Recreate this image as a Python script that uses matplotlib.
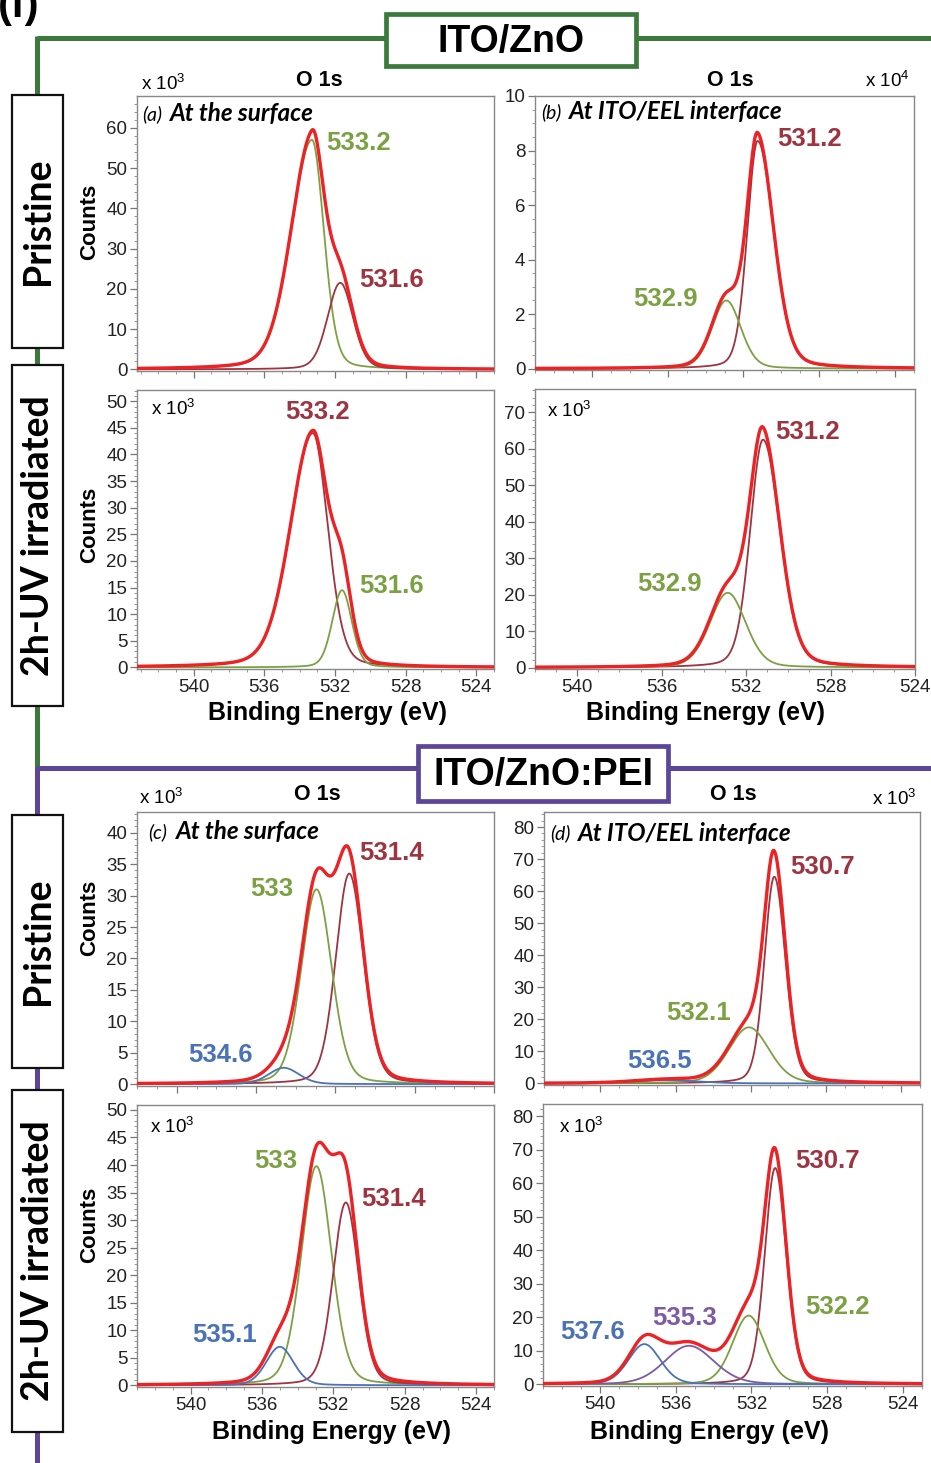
import numpy as np
import matplotlib
matplotlib.use("Agg")
import matplotlib.pyplot as plt
from matplotlib.patches import Rectangle
from matplotlib.ticker import MultipleLocator

# ---------------- data (peak fit components) ----------------
# Each component: centre (eV), height, half width on the high-BE side, half width on the low-BE side
# (a) ITO/ZnO, pristine, at the surface  (x10^3 counts)
a_centers = [533.3, 531.7]
a_heights = [57.0, 21.5]
a_hw_high = [1.4, 0.85]
a_hw_low = [0.8, 0.85]
a_labels = ["533.2", "531.6"]
# (b) ITO/ZnO, pristine, at ITO/EEL interface (x10^4 counts)
b_centers = [531.25, 532.9]
b_heights = [8.35, 2.5]
b_hw_high = [0.65, 0.9]
b_hw_low = [1.0, 0.9]
b_labels = ["531.2", "532.9"]
# ITO/ZnO, 2h-UV irradiated, surface (x10^3)
a2_centers = [533.25, 531.6]
a2_heights = [44.0, 14.5]
a2_hw_high = [1.5, 0.65]
a2_hw_low = [1.0, 0.65]
a2_labels = ["533.2", "531.6"]
# ITO/ZnO, 2h-UV irradiated, interface (x10^3)
b2_centers = [531.2, 532.87]
b2_heights = [62.5, 20.5]
b2_hw_high = [0.72, 1.0]
b2_hw_low = [0.95, 1.0]
b2_labels = ["531.2", "532.9"]
# (c) ITO/ZnO:PEI, pristine, surface (x10^3)
c_centers = [531.3, 532.95, 534.6]
c_heights = [33.5, 31.0, 2.6]
c_hw_high = [0.8, 0.9, 0.9]
c_hw_low = [0.85, 0.9, 0.9]
c_labels = ["531.4", "533", "534.6"]
# (d) ITO/ZnO:PEI, pristine, interface (x10^3)
d_centers = [530.75, 532.1, 536.5]
d_heights = [64.5, 17.5, 1.0]
d_hw_high = [0.62, 1.27, 2.0]
d_hw_low = [0.7, 1.27, 2.0]
d_labels = ["530.7", "532.1", "536.5"]
# ITO/ZnO:PEI, 2h-UV irradiated, surface (x10^3)
c2_centers = [532.95, 531.3, 535.0]
c2_heights = [39.8, 33.2, 7.0]
c2_hw_high = [1.0, 0.85, 0.9]
c2_hw_low = [1.0, 0.85, 0.9]
c2_labels = ["533", "531.4", "535.1"]
# ITO/ZnO:PEI, 2h-UV irradiated, interface (x10^3)
d2_centers = [530.75, 532.15, 535.3, 537.65]
d2_heights = [64.5, 20.5, 11.5, 12.0]
d2_hw_high = [0.65, 1.0, 1.5, 1.0]
d2_hw_low = [0.7, 1.0, 1.55, 1.0]
d2_labels = ["530.7", "532.2", "535.3", "537.6"]

xticks_be = [540, 536, 532, 528, 524]

# ---------------- styles ----------------
RED = "#ec2224"
GREEN = "#7ba143"
BROWN = "#9d3440"
BLUE = "#4a72b6"
PURPLE = "#7c5aa5"
GFRAME = "#3b7a3a"
PFRAME = "#5d4597"
ETA = 0.2

W, H = 931, 1463
fig = plt.figure(figsize=(W / 100, H / 100), dpi=100)
fig.patch.set_facecolor("white")
plt.rcParams["font.family"] = ["Liberation Sans", "DejaVu Sans"]

bg = fig.add_axes([0, 0, 1, 1])
bg.set_xlim(0, W)
bg.set_ylim(H, 0)
bg.axis("off")
bg.set_zorder(0)

NARROW = ["Liberation Sans Narrow", "Liberation Sans", "DejaVu Sans"]
CAL = ["Lato", "Open Sans", "DejaVu Sans"]


def profile(x, c, h, whi, wlo):
    w = np.where(x >= c, whi, wlo)
    u = (x - c) / w
    g = np.exp(-np.log(2) * u ** 2)
    l = 1.0 / (1 + u ** 2)
    return h * ((1 - ETA) * g + ETA * l)


def panel(box, xlim, ylim, ymaj, ymin, centers, heights, whi, wlo, colors,
          labels, label_pos, xlabels):
    l, t, r, b = box
    ax = fig.add_axes([l / W, 1 - b / H, (r - l) / W, (b - t) / H])
    ax.set_zorder(2)
    x = np.linspace(xlim[0], xlim[1], 900)
    total = np.zeros_like(x)
    for c, h, wh, wl, col in zip(centers, heights, whi, wlo, colors):
        y = profile(x, c, h, wh, wl)
        total += y
        ax.plot(x, y, color=col, lw=1.3, zorder=3)
    ax.plot(x, total, color=RED, lw=2.4, zorder=4)
    for lab, col, (lx, ly, ha) in zip(labels, colors, label_pos):
        ax.text(lx, ly, lab, color=col, fontsize=18.5, fontweight="bold",
                ha=ha, va="center", zorder=5)
    ax.set_xlim(*xlim)
    ax.set_ylim(*ylim)
    ax.set_xticks(xticks_be)
    ax.xaxis.set_minor_locator(MultipleLocator(1))
    ax.yaxis.set_major_locator(MultipleLocator(ymaj))
    ax.yaxis.set_minor_locator(MultipleLocator(ymin))
    ax.tick_params(which="major", direction="out", length=5, width=0.9,
                   color="#777777", labelsize=13.5, pad=2, labelcolor="#222222")
    ax.tick_params(which="minor", direction="out", length=2.5, width=0.7,
                   color="#999999")
    if not xlabels:
        ax.tick_params(axis="x", labelbottom=False)
    for s in ax.spines.values():
        s.set_color("#888888")
        s.set_linewidth(1.0)
    return ax


# ---- ITO/ZnO ----
panel((137, 96, 494, 371), (543.2, 523), (-0.4, 67.9), 10, 2,
      a_centers, a_heights, a_hw_high, a_hw_low, [GREEN, BROWN], a_labels,
      [(532.5, 56.3, "left"), (530.6, 22.3, "left")], False)
panel((535, 96, 914, 370), (543, 523), (-0.05, 10), 2, 0.5,
      b_centers, b_heights, b_hw_high, b_hw_low, [BROWN, GREEN], b_labels,
      [(530.2, 8.43, "left"), (537.8, 2.55, "left")], False)
panel((137, 390, 494, 669), (543.2, 523), (-0.3, 52.1), 5, 1,
      a2_centers, a2_heights, a2_hw_high, a2_hw_low, [BROWN, GREEN], a2_labels,
      [(533.0, 47.9, "center"), (530.6, 15.2, "left")], True)
panel((535, 389, 915, 669), (542, 524), (-0.4, 76.4), 10, 2,
      b2_centers, b2_heights, b2_hw_high, b2_hw_low, [BROWN, GREEN], b2_labels,
      [(530.6, 64.6, "left"), (537.15, 22.9, "left")], True)
# ---- ITO/ZnO:PEI ----
panel((137, 812, 494, 1086), (542, 524), (-0.3, 43.3), 5, 1,
      c_centers, c_heights, c_hw_high, c_hw_low, [BROWN, GREEN, BLUE], c_labels,
      [(530.8, 36.8, "left"), (536.3, 31.0, "left"), (539.4, 4.6, "left")], False)
panel((544, 812, 920, 1085), (543, 523), (-0.5, 84.7), 10, 2,
      d_centers, d_heights, d_hw_high, d_hw_low, [BROWN, GREEN, BLUE], d_labels,
      [(529.9, 67.6, "left"), (536.5, 22.0, "left"), (538.6, 7.1, "left")], False)
panel((137, 1105, 494, 1387), (543, 523), (-0.3, 50.9), 5, 1,
      c2_centers, c2_heights, c2_hw_high, c2_hw_low, [GREEN, BROWN, BLUE], c2_labels,
      [(536.45, 40.8, "left"), (530.45, 33.9, "left"), (539.9, 9.2, "left")], True)
panel((543, 1104, 922, 1386), (543, 523), (-0.5, 83.6), 10, 2,
      d2_centers, d2_heights, d2_hw_high, d2_hw_low, [BROWN, GREEN, PURPLE, BLUE],
      d2_labels,
      [(529.7, 66.7, "left"), (529.15, 23.1, "left"), (537.25, 19.9, "left"),
       (542.1, 15.7, "left")], True)

# ---------------- frame decorations ----------------
LW = 3.6
bg.plot([37, W], [38, 38], color=GFRAME, lw=LW, solid_capstyle="butt", zorder=1)
bg.plot([37, 37], [36.2, 768], color=GFRAME, lw=LW, solid_capstyle="butt", zorder=1)
bg.plot([37, W], [768, 768], color=PFRAME, lw=LW, solid_capstyle="butt", zorder=1)
bg.plot([37, 37], [766.2, H], color=PFRAME, lw=LW, solid_capstyle="butt", zorder=1)

bg.add_patch(Rectangle((386, 14), 250, 52, facecolor="white", edgecolor=GFRAME,
                       lw=3.4, zorder=2))
bg.text(511, 42, "ITO/ZnO", fontsize=27, fontweight="bold", family=NARROW,
        ha="center", va="center", zorder=3)
bg.add_patch(Rectangle((418, 746), 250, 55, facecolor="white", edgecolor=PFRAME,
                       lw=3.4, zorder=2))
bg.text(543, 775, "ITO/ZnO:PEI", fontsize=27, fontweight="bold", family=NARROW,
        ha="center", va="center", zorder=3)

bg.text(-2, 17, "(f)", fontsize=30, fontweight="bold", ha="left",
        va="baseline", zorder=3)

for (t, b, lab) in [(95, 348, "Pristine"), (365, 706, "2h-UV irradiated"),
                    (815, 1068, "Pristine"), (1090, 1432, "2h-UV irradiated")]:
    bg.add_patch(Rectangle((12, t), 51, b - t, facecolor="white",
                           edgecolor="#111111", lw=1.6, zorder=2))
    bg.text(38, (t + b) / 2, lab, rotation=90, fontsize=27, fontweight="bold",
            family=CAL, ha="center", va="center", zorder=3)

for yc in [222, 525, 918, 1225]:
    bg.text(90, yc, "Counts", rotation=90, fontsize=16, fontweight="bold",
            family=NARROW, ha="center", va="center")

for xc, yc in [(328, 713), (706, 713), (331, 1432), (709, 1432)]:
    bg.text(xc, yc, "Binding Energy (eV)", fontsize=18, fontweight="bold",
            ha="center", va="center")

for xc, yc in [(319, 81), (730, 81), (317, 795), (733, 795)]:
    bg.text(xc, yc, "O 1s", fontsize=15.5, fontweight="bold",
            ha="center", va="center")

# overlay for texts that sit inside / on top of the panels
fg = fig.add_axes([0, 0, 1, 1])
fg.set_xlim(0, W)
fg.set_ylim(H, 0)
fg.axis("off")
fg.set_zorder(5)
fg.patch.set_visible(False)

mult = [(141, 84, "3"), (865, 81, "4"), (151, 409, "3"), (547, 411, "3"),
        (139, 798, "3"), (872, 799, "3"), (150, 1127, "3"), (559, 1127, "3")]
for xl, yc, e in mult:
    fg.text(xl, yc, r"x 10$^\mathregular{%s}$" % e, fontsize=13.5,
            ha="left", va="center")

for xl, yc, tag, txt in [(142, 114, "(a)", "At the surface"),
                         (541, 112, "(b)", "At ITO/EEL interface"),
                         (148, 832, "(c)", "At the surface"),
                         (550, 833, "(d)", "At ITO/EEL interface")]:
    fg.text(xl, yc, tag, fontsize=14, style="italic", family=CAL,
            ha="left", va="center")
    fg.text(xl + 28, yc, txt, fontsize=17.5, style="italic", fontweight="bold",
            family=CAL, ha="left", va="center")

fig.savefig("out.png", dpi=100, facecolor="white")
